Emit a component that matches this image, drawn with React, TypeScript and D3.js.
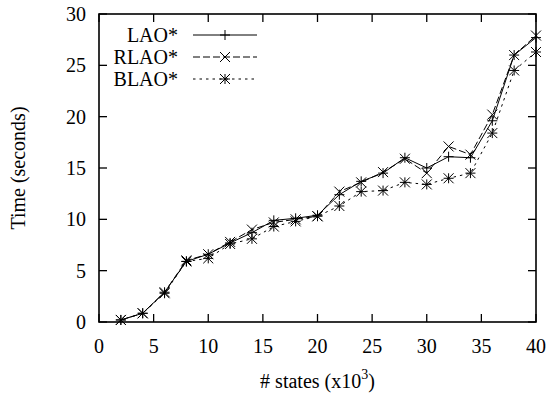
import React from "react";
import * as d3 from "d3";

// x values, thousands of states
const states = [2, 4, 6, 8, 10, 12, 14, 16, 18, 20, 22, 24, 26, 28, 30, 32, 34, 36, 38, 40];
const laoTimes = [0.2, 0.85, 2.9, 5.9, 6.6, 7.7, 8.7, 9.9, 10.1, 10.4, 12.4, 13.7, 14.5, 16.0, 15.0, 16.1, 16.0, 19.6, 26.0, 27.7];
const rlaoTimes = [0.2, 0.85, 2.9, 6.0, 6.6, 7.8, 9.0, 9.7, 10.0, 10.3, 12.7, 13.6, 14.6, 15.9, 14.5, 17.1, 16.3, 20.2, 26.0, 27.9];
const blaoTimes = [0.2, 0.85, 2.8, 5.9, 6.2, 7.6, 8.1, 9.3, 9.8, 10.3, 11.3, 12.7, 12.8, 13.6, 13.4, 14.0, 14.5, 18.4, 24.5, 26.3];
const xTicks = [0, 5, 10, 15, 20, 25, 30, 35, 40];
const yTicks = [0, 5, 10, 15, 20, 25, 30];

const seriesNames = ["LAO*", "RLAO*", "BLAO*"];
const seriesValues = [laoTimes, rlaoTimes, blaoTimes];
const dashes = ["none", "7,3", "2.5,4"];
const markers = ["plus", "cross", "star"];

function Marker({ kind, x, y }: { kind: string; x: number; y: number }) {
  const s = 5;
  const plus = `M${x - s},${y}H${x + s}M${x},${y - s}V${y + s}`;
  const cross = `M${x - s},${y - s}L${x + s},${y + s}M${x - s},${y + s}L${x + s},${y - s}`;
  const d = kind === "plus" ? plus : kind === "cross" ? cross : plus + cross;
  return <path d={d} stroke="black" strokeWidth={1} fill="none" />;
}

export default function App() {
  const width = 552;
  const height = 395;
  const left = 99, right = 536, top = 14, bottom = 322;
  const font = "'Liberation Serif', 'Times New Roman', serif";
  const fs = 20;

  const x = d3.scaleLinear().domain([0, 40]).range([left, right]);
  const y = d3.scaleLinear().domain([0, 30]).range([bottom, top]);
  const tick = 8;

  const line = d3
    .line<number>()
    .x((d, i) => x(states[i]))
    .y((d) => y(d));

  return (
    <svg
      width={width}
      height={height}
      style={{ position: "absolute", left: 0, top: 0, background: "white" }}
      fontFamily={font}
    >
      <rect x={0} y={0} width={width} height={height} fill="white" />

      {/* ticks, mirrored on all four sides */}
      {xTicks.map((t) => (
        <g key={"x" + t}>
          <line x1={x(t)} x2={x(t)} y1={bottom} y2={bottom - tick} stroke="black" strokeWidth={1.3} />
          <line x1={x(t)} x2={x(t)} y1={top} y2={top + tick} stroke="black" strokeWidth={1.3} />
          <text x={x(t)} y={bottom + 31} textAnchor="middle" fontSize={fs}>
            {t}
          </text>
        </g>
      ))}
      {yTicks.map((t) => (
        <g key={"y" + t}>
          <line x1={left} x2={left + tick} y1={y(t)} y2={y(t)} stroke="black" strokeWidth={1.3} />
          <line x1={right} x2={right - tick} y1={y(t)} y2={y(t)} stroke="black" strokeWidth={1.3} />
          <text x={86} y={y(t) + 7} textAnchor="end" fontSize={fs}>
            {t}
          </text>
        </g>
      ))}

      {seriesValues.map((vals, si) => (
        <g key={seriesNames[si]}>
          <path d={line(vals) || ""} fill="none" stroke="black" strokeWidth={1} strokeDasharray={dashes[si]} />
          {vals.map((v, i) => (
            <Marker key={i} kind={markers[si]} x={x(states[i])} y={y(v)} />
          ))}
        </g>
      ))}

      {/* legend */}
      {seriesNames.map((name, si) => {
        const ly = 35 + si * 22;
        return (
          <g key={"leg" + name}>
            <text x={178} y={ly + 7} textAnchor="end" fontSize={fs}>
              {name}
            </text>
            <line x1={193} x2={257} y1={ly} y2={ly} stroke="black" strokeWidth={1} strokeDasharray={dashes[si]} />
            <Marker kind={markers[si]} x={225} y={ly} />
          </g>
        );
      })}

      <rect x={left} y={top} width={right - left} height={bottom - top} fill="none" stroke="black" strokeWidth={1.6} />

      <text x={(left + right) / 2} y={388} textAnchor="middle" fontSize={fs}>
        # states (x10<tspan dy={-9} fontSize={14}>3</tspan>
        <tspan dy={9}>)</tspan>
      </text>
      <text
        transform={`translate(25,${(top + bottom) / 2}) rotate(-90)`}
        textAnchor="middle"
        fontSize={fs}
      >
        Time (seconds)
      </text>
    </svg>
  );
}
